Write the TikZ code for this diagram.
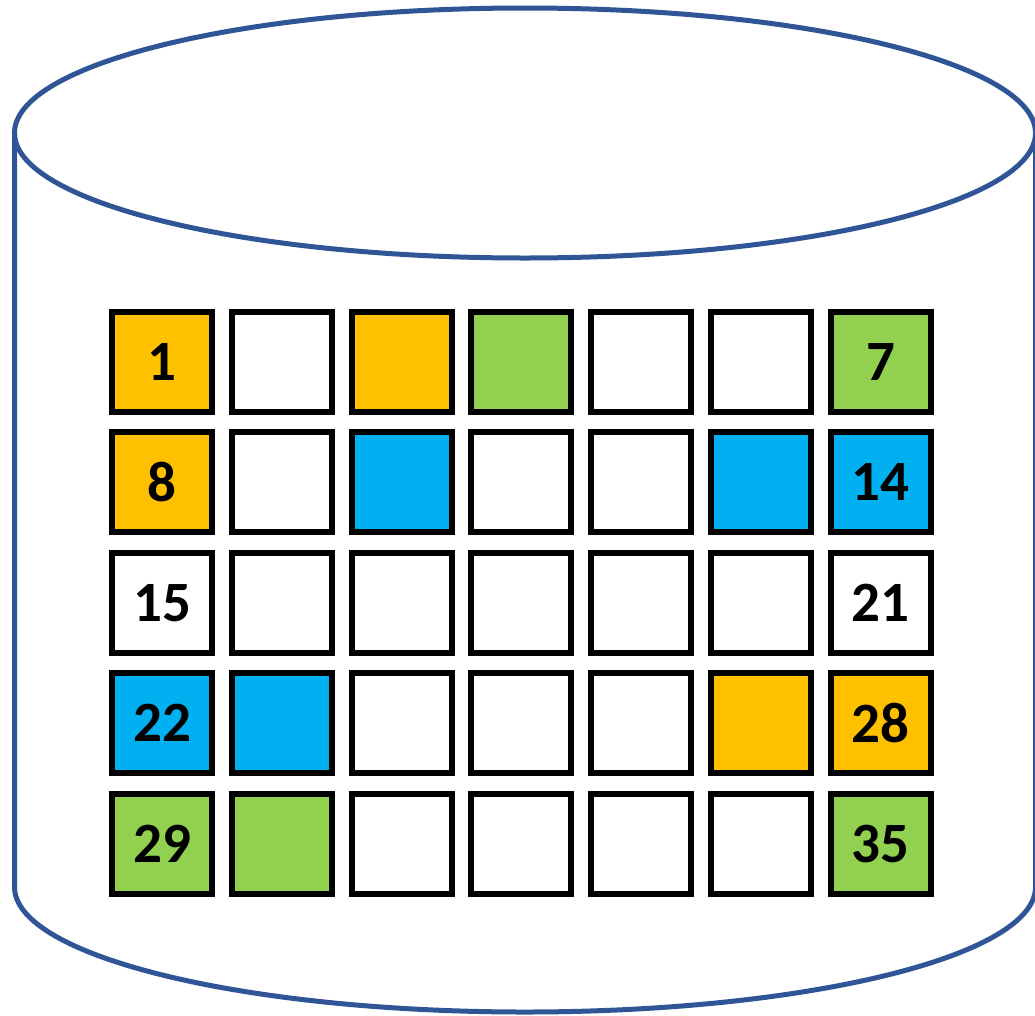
\documentclass[tikz,border=0pt]{standalone}
\usepackage{fontspec}
\setmainfont{Carlito}
\definecolor{cylblue}{HTML}{2F5597}
\definecolor{cor}{HTML}{FFC000}
\definecolor{cgr}{HTML}{92D050}
\definecolor{cbl}{HTML}{00B0F0}
\begin{document}
\begin{tikzpicture}[x=1pt,y=-1pt,
  cell/.style={draw=black,line width=6pt,minimum size=100pt,inner sep=0pt,
    font=\fontsize{57}{60}\selectfont\bfseries},
  cyl/.style={draw=cylblue,line width=5pt}]
\useasboundingbox (0,0) rectangle (1035,1015);
\clip (0,0) rectangle (1035,1015);
% cylinder
\draw[cyl] (525,133) ellipse [x radius=510.5, y radius=125];
\draw[cyl] (14.5,133) -- (14.5,887) arc[start angle=180,end angle=0,x radius=510.5,y radius=125] -- (1035.5,133);
% grid
\foreach \r/\row in {0/{cor/1,white/,cor/,cgr/,white/,white/,cgr/7},
                     1/{cor/8,white/,cbl/,white/,white/,cbl/,cbl/14},
                     2/{white/15,white/,white/,white/,white/,white/,white/21},
                     3/{cbl/22,cbl/,white/,white/,white/,cor/,cor/28},
                     4/{cgr/29,cgr/,white/,white/,white/,white/,cgr/35}}{
  \foreach \col/\txt [count=\c from 0] in \row {
    \node[cell,fill=\col] (c\r\c) at ({162+119.8*\c},{362+120.4*\r}) {\txt};
  }
}
\end{tikzpicture}
\end{document}
